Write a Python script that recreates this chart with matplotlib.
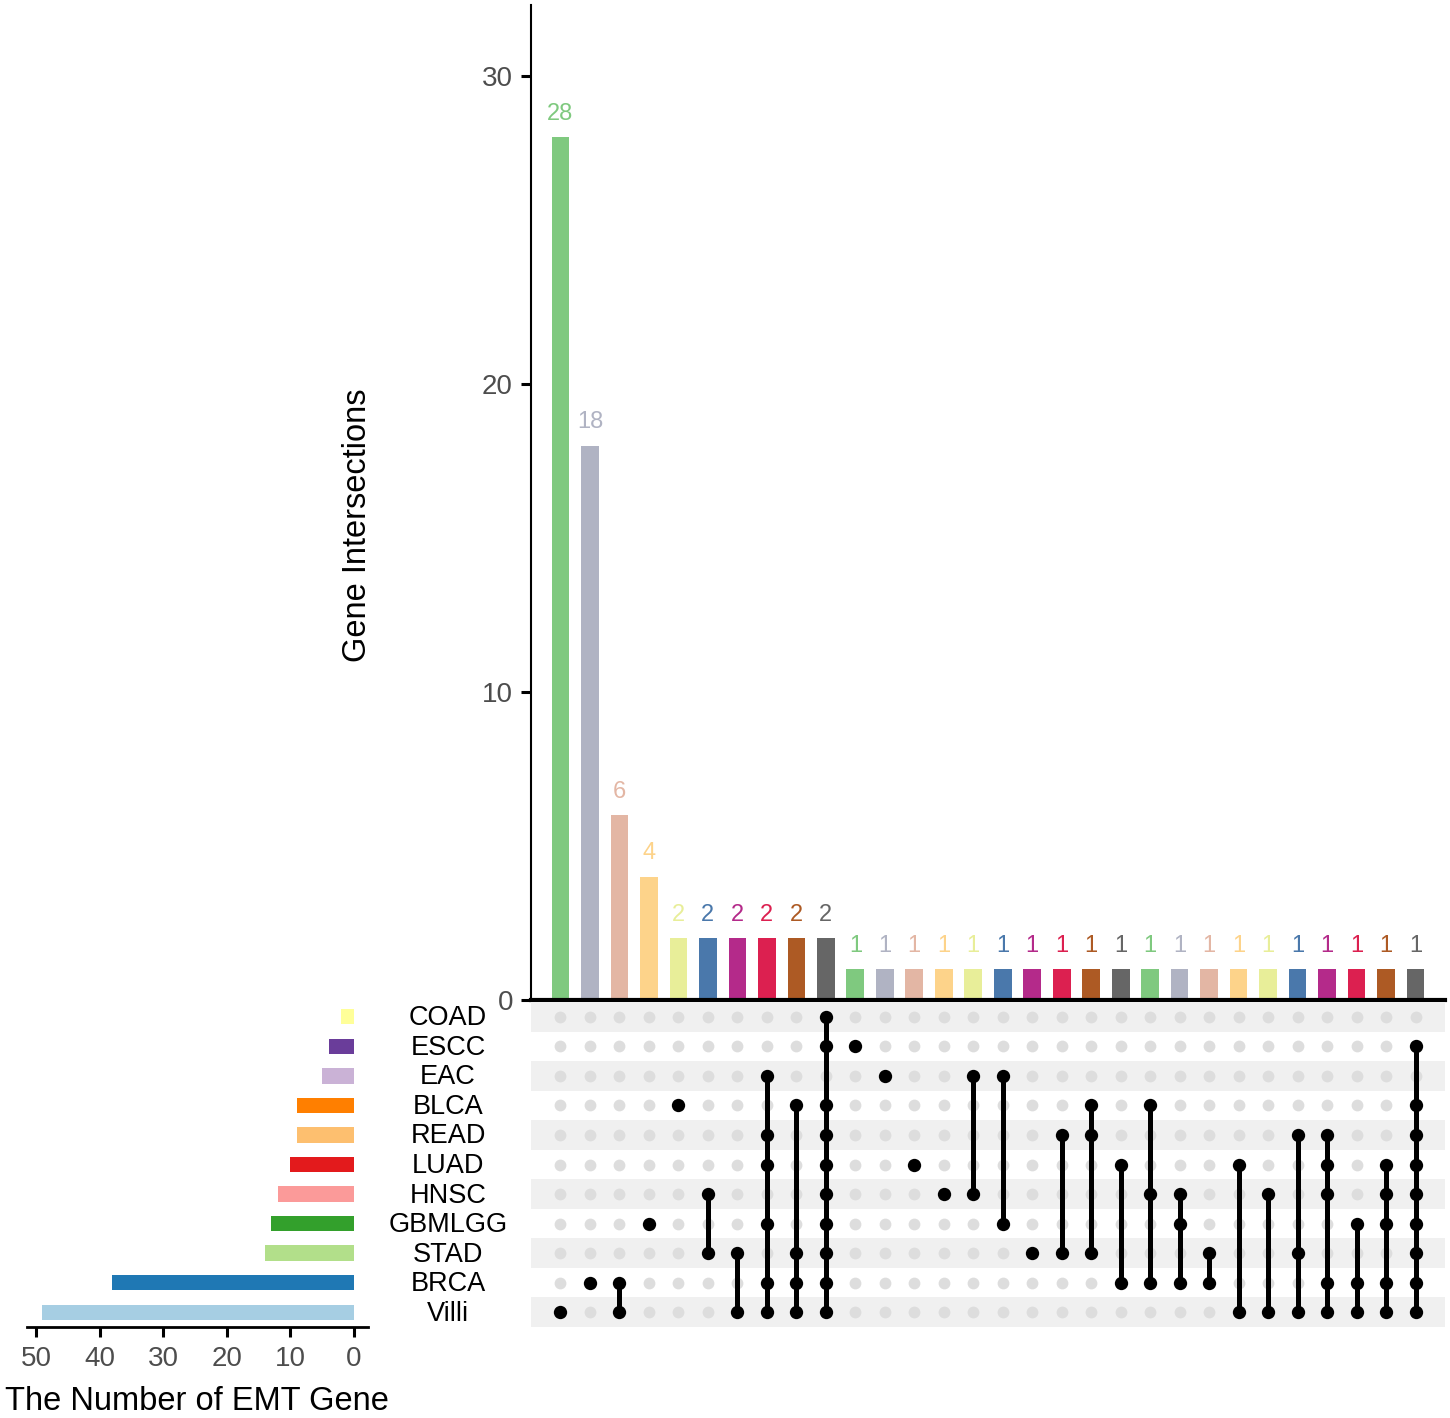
import matplotlib
matplotlib.use("Agg")
import matplotlib.pyplot as plt
import matplotlib.transforms as mtransforms

plt.rcParams['font.family'] = ['Liberation Sans', 'DejaVu Sans']

# ---------------- data ----------------
sets = ["COAD", "ESCC", "EAC", "BLCA", "READ", "LUAD", "HNSC", "GBMLGG", "STAD", "BRCA", "Villi"]
set_sizes = [2, 4, 5, 9, 9, 10, 12, 13, 14, 38, 49]
set_colors = ["#FFFF99", "#6A3D9A", "#CAB2D6", "#FF7F00", "#FDBF6F", "#E31A1C",
              "#FB9A99", "#33A02C", "#B2DF8A", "#1F78B4", "#A6CEE3"]

counts = [28, 18, 6, 4, 2, 2, 2, 2, 2, 2,
          1, 1, 1, 1, 1, 1, 1, 1, 1, 1,
          1, 1, 1, 1, 1, 1, 1, 1, 1, 1]
members = [
    ["Villi"],
    ["BRCA"],
    ["BRCA", "Villi"],
    ["GBMLGG"],
    ["BLCA"],
    ["HNSC", "STAD"],
    ["STAD", "Villi"],
    ["EAC", "READ", "LUAD", "GBMLGG", "BRCA", "Villi"],
    ["BLCA", "STAD", "BRCA", "Villi"],
    ["COAD", "ESCC", "BLCA", "READ", "LUAD", "HNSC", "GBMLGG", "STAD", "BRCA", "Villi"],
    ["ESCC"],
    ["EAC"],
    ["LUAD"],
    ["HNSC"],
    ["EAC", "HNSC"],
    ["EAC", "GBMLGG"],
    ["STAD"],
    ["READ", "STAD"],
    ["BLCA", "READ", "STAD"],
    ["LUAD", "BRCA"],
    ["BLCA", "HNSC", "BRCA"],
    ["HNSC", "GBMLGG", "BRCA"],
    ["STAD", "BRCA"],
    ["LUAD", "Villi"],
    ["HNSC", "Villi"],
    ["READ", "STAD", "Villi"],
    ["READ", "LUAD", "HNSC", "BRCA", "Villi"],
    ["GBMLGG", "BRCA", "Villi"],
    ["LUAD", "HNSC", "GBMLGG", "BRCA", "Villi"],
    ["ESCC", "BLCA", "READ", "LUAD", "HNSC", "GBMLGG", "STAD", "BRCA", "Villi"],
]
inter_palette = ["#7FC97F", "#B0B3C3", "#E3B6A4", "#FDD38A", "#E8EE99",
                 "#4A78AB", "#B42A8A", "#DC2050", "#AD5A24", "#666666"]

main_ticks = [0, 10, 20, 30]
set_ticks = [50, 40, 30, 20, 10, 0]

# ---------------- figure ----------------
W, H = 1450, 1418
fig = plt.figure(figsize=(W / 100, H / 100), dpi=100)

def rect(x0, y0, x1, y1):
    return [x0 / W, 1 - y1 / H, (x1 - x0) / W, (y1 - y0) / H]

n = len(counts)
xs = list(range(1, n + 1))
bar_colors = [inter_palette[i % len(inter_palette)] for i in range(n)]
row_of = {s: i for i, s in enumerate(sets)}

# main intersection bars
ax_bar = fig.add_axes(rect(531, 5, 1445, 1000))
ax_bar.bar(xs, counts, width=0.6, color=bar_colors)
for x, c, col in zip(xs, counts, bar_colors):
    ax_bar.annotate(str(c), (x, c), xytext=(0, 9), textcoords='offset points',
                    ha='center', va='bottom', fontsize=17, color=col)
ax_bar.set_xlim(0, n + 1)
ax_bar.set_ylim(0, 32.3)
ax_bar.set_yticks(main_ticks)
ax_bar.set_xticks([])
ax_bar.tick_params(axis='y', length=7, width=2.2, labelsize=20, labelcolor='#4D4D4D', pad=6)
for s in ['top', 'right']:
    ax_bar.spines[s].set_visible(False)
ax_bar.spines['left'].set_linewidth(1.5)
ax_bar.spines['bottom'].set_linewidth(3)
fig.text(357 / W, 1 - 525 / H, "Gene Intersections", rotation=90,
         ha='center', va='center', fontsize=23.5)

# matrix
ax_m = fig.add_axes(rect(531, 1002, 1445, 1327))
ax_m.set_xlim(0, n + 1)
ax_m.set_ylim(len(sets) - 0.5, -0.5)
for i in range(len(sets)):
    if i % 2 == 0:
        ax_m.axhspan(i - 0.5, i + 0.5, color='#F0F0F0', lw=0, zorder=0)
gx, gy = [], []
for x in xs:
    for i in range(len(sets)):
        gx.append(x)
        gy.append(i)
ax_m.scatter(gx, gy, s=72, color='#DDDDDD', lw=0, zorder=1)
for x, mem in zip(xs, members):
    rows = [row_of[m] for m in mem]
    if len(rows) > 1:
        ax_m.plot([x, x], [min(rows), max(rows)], color='black', lw=3.6,
                  solid_capstyle='round', zorder=2)
    ax_m.scatter([x] * len(rows), rows, s=92, color='black', lw=0, zorder=3)
ax_m.axis('off')

# row labels
lab_tr = mtransforms.blended_transform_factory(fig.transFigure, ax_m.transData)
for i, s in enumerate(sets):
    ax_m.text(448 / W, i + 0.05, s, transform=lab_tr,
              ha='center', va='center', fontsize=19.5, color='black')

# set size bars
ax_s = fig.add_axes(rect(27, 1002, 368, 1327))
ax_s.barh(list(range(len(sets))), set_sizes, height=0.52, color=set_colors)
ax_s.set_xlim(51.4, -2.2)
ax_s.set_ylim(len(sets) - 0.5, -0.5)
ax_s.set_xticks(set_ticks)
ax_s.set_yticks([])
ax_s.tick_params(axis='x', length=7, width=2.2, labelsize=20, labelcolor='#4D4D4D', pad=7)
for s in ['top', 'right', 'left']:
    ax_s.spines[s].set_visible(False)
ax_s.spines['bottom'].set_linewidth(2)
fig.text(197 / W, 1 - 1401 / H, "The Number of EMT Gene", ha='center', va='center', fontsize=23.5)

fig.savefig("out.png", dpi=100)
